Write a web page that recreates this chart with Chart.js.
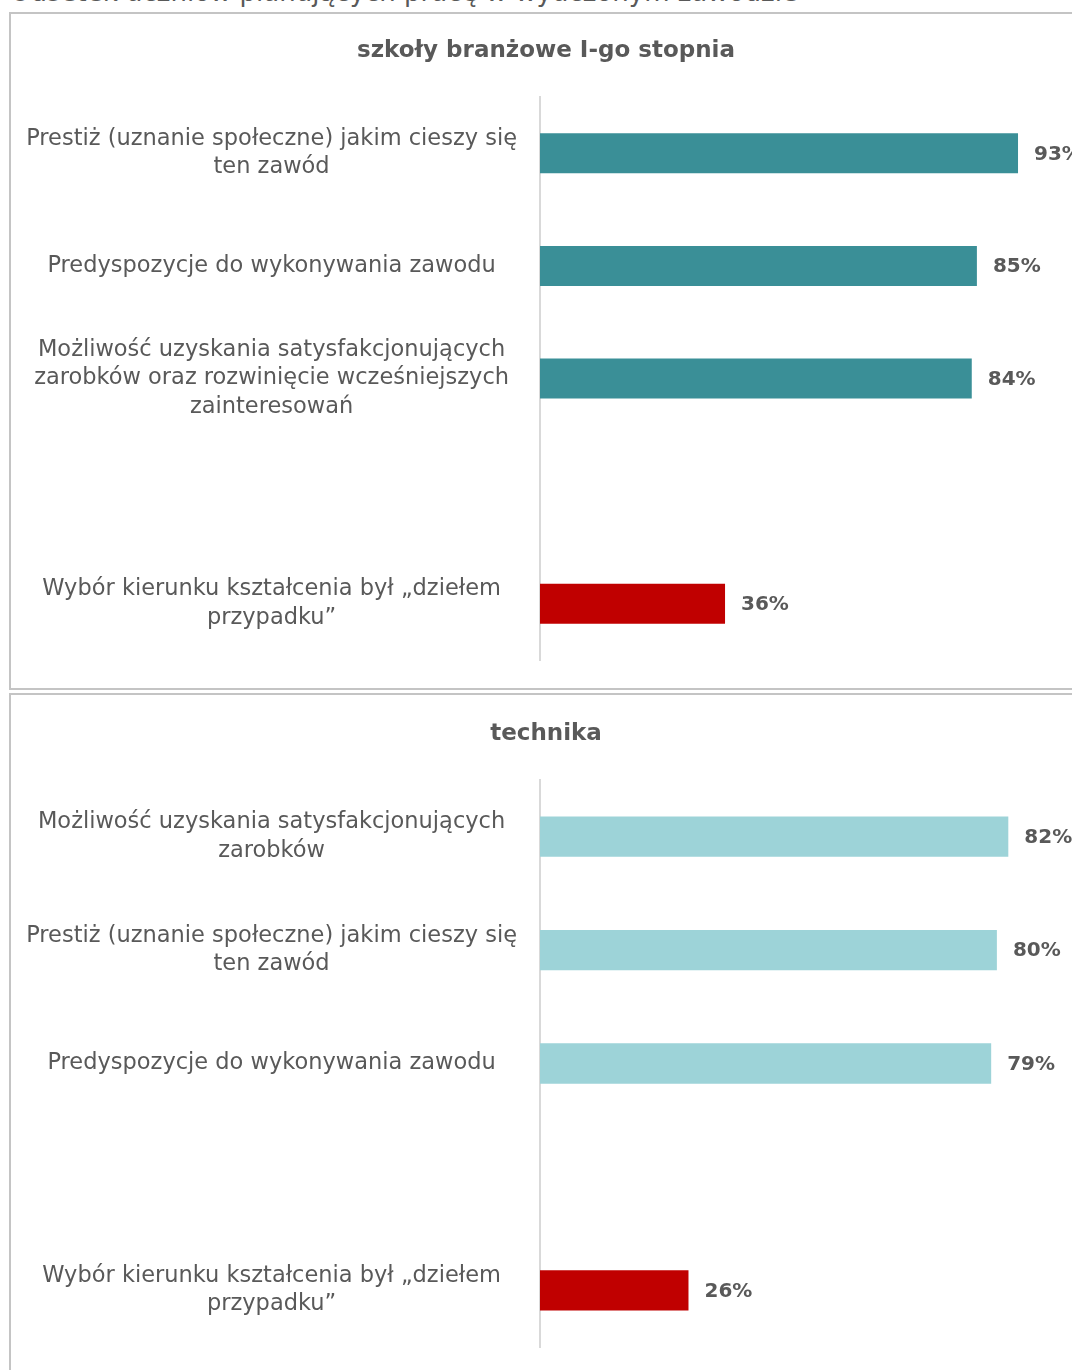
<!DOCTYPE html>
<html lang="pl">
<head>
    <meta charset="UTF-8">
    <title>Odsetek uczniów planujących pracę w wyuczonym zawodzie</title>
    <script src="https://cdn.jsdelivr.net/npm/chart.js"></script>
    <style>
        body { margin: 0; width: 1072px; height: 1370px; overflow: hidden; background: #fff; position: relative; font-family: "DejaVu Sans", sans-serif; }
        .caption { position: absolute; left: 10px; top: -21px; font-size: 26px; line-height: 26px; color: #595959; white-space: nowrap; }
        .panel { position: absolute; left: 9px; width: 1100px; border: 2px solid #c4c4c4; box-sizing: border-box; }
        .panel canvas { position: absolute; left: 0; top: 0; }
        .title { position: absolute; left: 0; width: 1092px; text-align: center; font-size: 23px; line-height: 28px; font-weight: bold; color: #595959; }
    </style>
</head>
<body>
    <div class="caption">Odsetek uczniów planujących pracę w wyuczonym zawodzie</div>
    <div class="panel" style="top:12px; height:678px;"><canvas id="chart1"></canvas></div>
    <div class="panel" style="top:693px; height:700px;"><canvas id="chart2"></canvas></div>
    <div class="title" id="title1" style="top:35px;"></div>
    <div class="title" id="title2" style="top:718px;"></div>

    <script>
        // szkoły branżowe I-go stopnia
        const title1 = 'szkoły branżowe I-go stopnia';
        const labels1 = [
            ['Prestiż (uznanie społeczne) jakim cieszy się', 'ten zawód'],
            'Predyspozycje do wykonywania zawodu',
            ['Możliwość uzyskania satysfakcjonujących', 'zarobków oraz rozwinięcie wcześniejszych', 'zainteresowań'],
            '',
            ['Wybór kierunku kształcenia był „dziełem', 'przypadku”']
        ];
        const values1 = [93, 85, 84, null, 36];

        // technika
        const title2 = 'technika';
        const labels2 = [
            ['Możliwość uzyskania satysfakcjonujących', 'zarobków'],
            ['Prestiż (uznanie społeczne) jakim cieszy się', 'ten zawód'],
            'Predyspozycje do wykonywania zawodu',
            '',
            ['Wybór kierunku kształcenia był „dziełem', 'przypadku”']
        ];
        const values2 = [82, 80, 79, null, 26];

        const TEAL = '#3a8f97';
        const LIGHT = '#9dd3d8';
        const RED = '#c00000';
        const GREY = '#595959';

        const valueLabels = {
            id: 'valueLabels',
            afterDatasetsDraw(chart) {
                const c = chart.ctx;
                const meta = chart.getDatasetMeta(0);
                const data = chart.data.datasets[0].data;
                c.save();
                c.font = 'bold 20px "DejaVu Sans"';
                c.fillStyle = GREY;
                c.textAlign = 'left';
                c.textBaseline = 'middle';
                meta.data.forEach((bar, i) => {
                    if (data[i] == null) return;
                    c.fillText(data[i] + '%', bar.x + 16, bar.y + 1);
                });
                c.restore();
            }
        };

        function makeChart(id, titleId, title, labels, values, colors, max, h, padTop, padBottom) {
            document.getElementById(titleId).textContent = title;
            const el = document.getElementById(id);
            el.width = 1070;
            el.height = h;
            el.style.width = '1070px';
            el.style.height = h + 'px';
            return new Chart(el.getContext('2d'), {
                type: 'bar',
                data: {
                    labels: labels,
                    datasets: [{
                        data: values,
                        backgroundColor: colors,
                        barPercentage: 0.355,
                        categoryPercentage: 1
                    }]
                },
                options: {
                    indexAxis: 'y',
                    responsive: false,
                    animation: false,
                    layout: { padding: { left: 0, right: 27, top: padTop, bottom: padBottom } },
                    plugins: {
                        legend: { display: false },
                        tooltip: { enabled: false },
                        title: { display: false }
                    },
                    scales: {
                        x: { display: false, min: 0, max: max },
                        y: {
                            grid: { display: false, drawTicks: false },
                            border: { display: true, color: '#d9d9d9', width: 2 },
                            ticks: {
                                color: GREY,
                                padding: 23,
                                crossAlign: 'center',
                                font: { family: 'DejaVu Sans', size: 22.5, lineHeight: 1.27 }
                            },
                            afterFit(scale) {
                                scale.width = 529;
                                scale.paddingTop = 0;
                                scale.paddingBottom = 0;
                            }
                        }
                    }
                },
                plugins: [valueLabels]
            });
        }

        makeChart('chart1', 'title1', title1, labels1, values1, [TEAL, TEAL, TEAL, TEAL, RED], 100, 674, 83, 28);
        makeChart('chart2', 'title2', title2, labels2, values2, [LIGHT, LIGHT, LIGHT, LIGHT, RED], 90, 673, 85, 21);
    </script>
</body>
</html>
